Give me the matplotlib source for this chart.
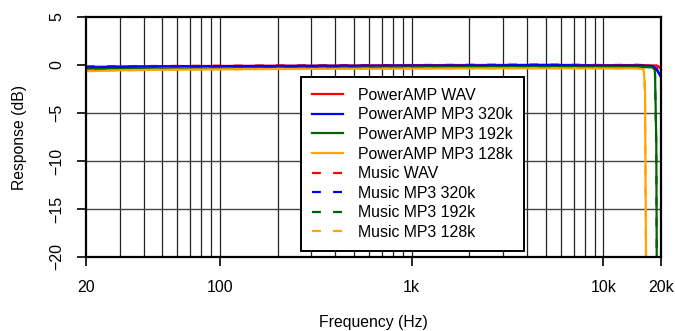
import matplotlib
matplotlib.use("Agg")
import matplotlib.pyplot as plt
from matplotlib.ticker import FixedLocator, NullLocator

plt.rcParams["font.family"] = ["Liberation Sans", "DejaVu Sans"]

# frequency response data (Hz, dB)
freq_full = [20, 30, 50, 100, 200, 500, 1000, 2000, 5000, 10000, 15000, 18000, 19000, 20000]
pa_wav = [-0.2, -0.15, -0.12, -0.1, -0.08, -0.05, -0.02, 0.0, 0.02, -0.02, 0.0, -0.05, -0.05, -0.3]
pa_320 = [-0.25, -0.2, -0.15, -0.12, -0.1, -0.08, -0.05, -0.05, 0.0, -0.05, -0.05, -0.1, -0.4, -1.3]
mu_wav = [-0.15, -0.12, -0.1, -0.08, -0.05, -0.05, 0.0, 0.02, 0.05, 0.0, 0.02, -0.05, -0.1, -0.4]
mu_320 = [-0.2, -0.18, -0.15, -0.12, -0.1, -0.06, -0.05, -0.02, 0.0, -0.05, -0.05, -0.1, -0.5, -1.2]

freq_192 = [20, 30, 50, 100, 200, 500, 1000, 2000, 5000, 10000, 15000, 18000, 18600, 18900, 19000]
pa_192 = [-0.45, -0.4, -0.38, -0.35, -0.32, -0.3, -0.25, -0.22, -0.2, -0.2, -0.2, -0.25, -0.5, -8.0, -20.0]
mu_192 = [-0.4, -0.38, -0.35, -0.32, -0.3, -0.28, -0.25, -0.2, -0.2, -0.22, -0.2, -0.25, -0.6, -9.0, -20.0]

freq_128 = [20, 30, 50, 100, 200, 500, 1000, 2000, 5000, 10000, 15000, 16200, 16500, 16700]
pa_128 = [-0.65, -0.55, -0.5, -0.45, -0.42, -0.4, -0.38, -0.35, -0.35, -0.35, -0.35, -0.4, -2.0, -20.0]
mu_128 = [-0.6, -0.55, -0.48, -0.45, -0.4, -0.38, -0.35, -0.35, -0.32, -0.35, -0.35, -0.45, -3.0, -20.0]

labels = ["PowerAMP WAV", "PowerAMP MP3 320k", "PowerAMP MP3 192k", "PowerAMP MP3 128k",
          "Music WAV", "Music MP3 320k", "Music MP3 192k", "Music MP3 128k"]
colors = ["red", "blue", "darkgreen", "orange"]

x_ticks = [20, 100, 1000, 10000, 20000]
x_ticklabels = ["20", "100", "1k", "10k", "20k"]
y_ticks = [5, 0, -5, -10, -15, -20]

fig = plt.figure(figsize=(6.75, 3.31), dpi=100)
ax = fig.add_axes([86 / 675, 1 - 257 / 331, 575 / 675, 240 / 331])

# grid
grid_x = [30, 40, 50, 60, 70, 80, 90, 100, 200, 300, 400, 500, 600, 700, 800, 900,
          1000, 2000, 3000, 4000, 5000, 6000, 7000, 8000, 9000, 10000]
for g in grid_x:
    ax.axvline(g, color="#222222", lw=0.9, zorder=1)
for g in [-5, -10, -15]:
    ax.axhline(g, color="#444444", lw=1.0, zorder=1)

series = [
    (freq_full, pa_wav), (freq_full, pa_320), (freq_192, pa_192), (freq_128, pa_128),
    (freq_full, mu_wav), (freq_full, mu_320), (freq_192, mu_192), (freq_128, mu_128),
]
for i, (f, r) in enumerate(series):
    ls = "-" if i < 4 else (0, (4, 5.5))
    ax.plot(f, r, color=colors[i % 4], lw=1.6, linestyle=ls, label=labels[i], zorder=3)

ax.set_xscale("log")
ax.set_xlim(20, 20000)
ax.set_ylim(-20, 5)
ax.xaxis.set_major_locator(FixedLocator(x_ticks))
ax.xaxis.set_minor_locator(NullLocator())
ax.set_xticklabels(x_ticklabels)
ax.set_yticks(y_ticks)
ax.set_yticklabels([str(v).replace("-", "\u2212") for v in y_ticks], rotation=90, va="center")
ax.tick_params(axis="both", direction="out", length=6.5, width=1.2, labelsize=11.5)
ax.tick_params(axis="x", pad=10)
ax.tick_params(axis="y", pad=9)
for s in ax.spines.values():
    s.set_linewidth(1.6)
    s.set_zorder(4)

fig.text(373.5 / 675, 1 - 323 / 331, "Frequency (Hz)", fontsize=11.3, ha="center", va="center")
fig.text(20 / 675, 1 - 137 / 331, "Response (dB)", fontsize=11.3, ha="center", va="center",
         rotation=90)

leg = ax.legend(loc="lower left", bbox_to_anchor=((301 - 86) / 575, (257 - 251) / 240),
                fontsize=11.4, frameon=True, fancybox=False, framealpha=1, edgecolor="black",
                handlelength=1.95, handletextpad=0.95, labelspacing=0.29, borderpad=0.7,
                borderaxespad=0)
leg.get_frame().set_linewidth(1.4)
leg.set_zorder(5)

fig.savefig("out.png", dpi=100)
